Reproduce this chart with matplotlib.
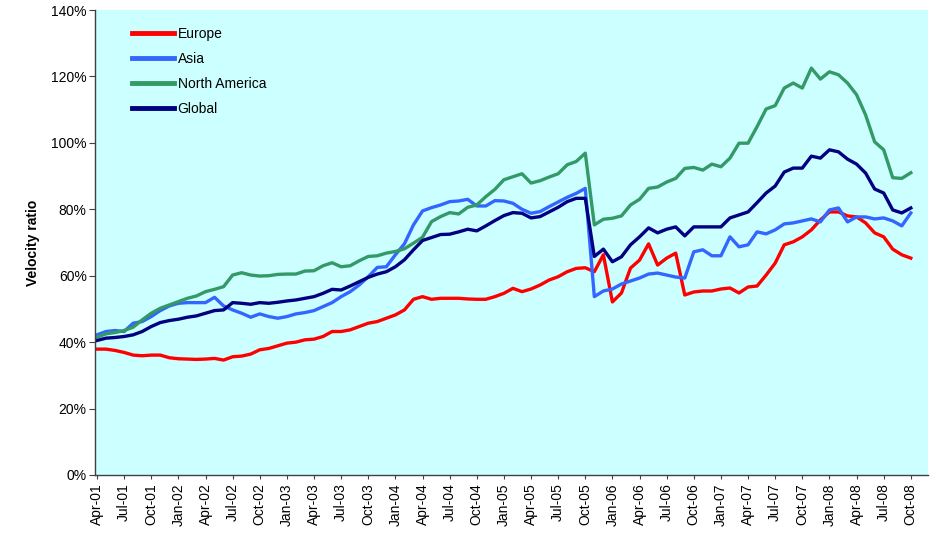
import numpy as np
import matplotlib
matplotlib.use("Agg")
import matplotlib.pyplot as plt

plt.rcParams['font.family'] = ['Liberation Sans', 'DejaVu Sans']

# monthly, Apr-01 .. Oct-08 (91 points), velocity ratio in %
europe = [37.9, 37.9, 37.5, 36.9, 36.1, 35.9, 36.1, 36.1, 35.3, 35.0, 34.9, 34.8, 34.9, 35.1, 34.6, 35.6,
          35.8, 36.4, 37.7, 38.1, 38.9, 39.7, 40.0, 40.7, 40.9, 41.7, 43.2, 43.2, 43.7, 44.7, 45.7,
          46.2, 47.2, 48.2, 49.7, 52.9, 53.7, 52.9, 53.2, 53.2, 53.2, 53.0, 52.9, 52.9, 53.7, 54.7,
          56.2, 55.2, 56.0, 57.2, 58.7, 59.7, 61.2, 62.2, 62.4, 61.2,
          66.3, 52.1, 54.8, 62.3, 64.7, 69.6, 63.2, 65.3, 66.8, 54.2, 55.1, 55.4, 55.4, 56.0, 56.3,
          54.8, 56.6, 56.9, 60.2, 63.8, 69.3, 70.2, 71.7, 73.8, 76.8, 79.2, 79.2, 78.0, 77.7, 75.9,
          72.9, 71.7, 68.0, 66.3, 65.3]
asia = [42.2, 43.2, 43.5, 43.2, 45.7, 46.2, 47.7, 49.5, 50.9, 51.7, 51.9, 51.9, 51.9, 53.5, 50.9, 49.7,
        48.7, 47.5, 48.5, 47.7, 47.2, 47.7, 48.5, 48.9, 49.5, 50.7, 51.9, 53.7, 55.2, 57.2, 59.7,
        62.5, 62.7, 66.3, 69.6, 75.3, 79.5, 80.5, 81.3, 82.3, 82.5, 83.0, 81.0, 81.0, 82.6, 82.5,
        81.8, 80.0, 78.8, 79.3, 80.8, 82.2, 83.6, 84.8, 86.3, 53.7,
        55.4, 56.0, 57.5, 58.4, 59.3, 60.5, 60.8, 60.2, 59.6, 59.3, 67.2, 67.8, 66.0, 66.0, 71.7,
        68.7, 69.3, 73.2, 72.6, 73.8, 75.6, 75.9, 76.5, 77.1, 76.2, 79.8, 80.4, 76.2, 77.7, 77.7,
        77.1, 77.4, 76.5, 75.0, 78.9]
north_america = [41.5, 42.5, 42.9, 43.5, 44.5, 46.7, 48.7, 50.2, 51.2, 52.2, 53.2, 53.9, 55.2, 55.9, 56.7,
                 60.2, 60.9, 60.2, 59.9, 60.0, 60.4, 60.5, 60.5, 61.4, 61.5, 63.0, 63.9, 62.7, 63.0, 64.5,
                 65.8, 66.0, 66.8, 67.3, 68.1, 69.8, 71.6, 76.3, 77.8, 79.0, 78.6, 80.6, 81.3, 83.8, 86.0,
                 88.9, 89.8, 90.7, 87.9, 88.6, 89.7, 90.7, 93.4, 94.4, 96.9, 75.3,
                 77.0, 77.3, 78.0, 81.3, 83.0, 86.3, 86.7, 88.2, 89.3, 92.3, 92.6, 91.8, 93.6, 92.8, 95.4,
                 99.9, 99.9, 104.9, 110.2, 111.2, 116.5, 118.0, 116.5, 122.5, 119.2, 121.4, 120.5, 118.0,
                 114.5, 108.4, 100.3, 97.9, 89.5, 89.3, 91.0]
global_ = [40.5, 41.2, 41.4, 41.7, 42.2, 43.2, 44.7, 45.9, 46.5, 46.9, 47.5, 47.9, 48.7, 49.5, 49.7, 51.9,
           51.7, 51.4, 51.9, 51.7, 52.0, 52.4, 52.7, 53.2, 53.7, 54.7, 55.9, 55.7, 56.9, 58.2, 59.5,
           60.5, 61.2, 62.7, 64.8, 67.8, 70.6, 71.5, 72.4, 72.5, 73.2, 74.0, 73.5, 75.0, 76.6, 78.1,
           79.0, 78.8, 77.4, 77.8, 79.2, 80.6, 82.3, 83.3, 83.3, 65.8,
           68.0, 64.2, 65.7, 69.3, 71.7, 74.4, 72.9, 74.0, 74.7, 72.0, 74.7, 74.7, 74.7, 74.7, 77.4,
           78.3, 79.2, 82.0, 84.9, 87.0, 91.2, 92.4, 92.4, 96.0, 95.4, 97.9, 97.3, 95.1, 93.6, 90.9,
           86.1, 84.9, 79.8, 78.9, 80.4]

tick_labels = ['Apr-01', 'Jul-01', 'Oct-01', 'Jan-02', 'Apr-02', 'Jul-02', 'Oct-02', 'Jan-03',
               'Apr-03', 'Jul-03', 'Oct-03', 'Jan-04', 'Apr-04', 'Jul-04', 'Oct-04', 'Jan-05',
               'Apr-05', 'Jul-05', 'Oct-05', 'Jan-06', 'Apr-06', 'Jul-06', 'Oct-06', 'Jan-07',
               'Apr-07', 'Jul-07', 'Oct-07', 'Jan-08', 'Apr-08', 'Jul-08', 'Oct-08']

x = np.arange(len(europe))

fig = plt.figure(figsize=(9.33, 5.35), dpi=100)
ax = fig.add_axes([95 / 933, 1 - 475 / 535, 833 / 933, 465 / 535])
ax.set_facecolor('#CCFFFF')

ax.plot(x, europe, color='#FF0000', lw=2.4, label='Europe')
ax.plot(x, asia, color='#3366FF', lw=2.4, label='Asia')
ax.plot(x, north_america, color='#339966', lw=2.4, label='North America')
ax.plot(x, global_, color='#000080', lw=2.4, label='Global')

ax.set_xlim(-0.22, 91.9)
ax.set_ylim(0, 140)
ax.set_yticks(np.arange(0, 141, 20))
ax.set_yticklabels(['%d%%' % v for v in range(0, 141, 20)], fontsize=10)
ax.set_xticks(np.arange(0, len(europe), 3))
ax.set_xticklabels(tick_labels, rotation=90, fontsize=10)
ax.tick_params(axis='y', length=4, width=0.8, color='#404040', pad=2)
ax.tick_params(axis='x', length=3, width=0.8, color='#404040', pad=3)

for s in ['top', 'right']:
    ax.spines[s].set_visible(False)
for s in ['left', 'bottom']:
    ax.spines[s].set_color('#404040')
    ax.spines[s].set_linewidth(1.0)

ax.set_ylabel('Velocity ratio', fontsize=10, fontweight='bold', labelpad=8)

leg = ax.legend(loc='upper left', bbox_to_anchor=(0.03, 0.99), frameon=False, fontsize=10,
                handlelength=3.0, handletextpad=0.25, labelspacing=0.78)
for line in leg.get_lines():
    line.set_linewidth(3.5)

plt.savefig('out.png', dpi=100)
